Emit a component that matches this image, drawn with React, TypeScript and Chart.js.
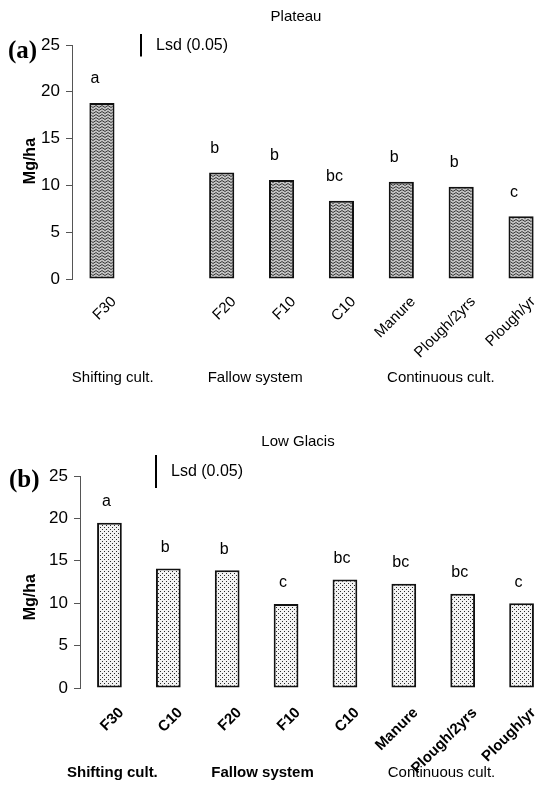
import React, { useEffect, useRef } from "react";
import { Chart, registerables } from "chart.js";
Chart.register(...registerables);

const categoriesA = ["F30", "", "F20", "F10", "C10", "Manure", "Plough/2yrs", "Plough/yr"];
const valuesA = [18.8, null, 11.37, 10.58, 8.35, 10.4, 9.85, 6.7];
const lettersA = ["a", "", "b", "b", "bc", "b", "b", "c"];

const categoriesB = ["F30", "C10", "F20", "F10", "C10", "Manure", "Plough/2yrs", "Plough/yr"];
const valuesB = [19.5, 14.1, 13.9, 9.9, 12.8, 12.3, 11.1, 10.0];
const lettersB = ["a", "b", "b", "c", "bc", "bc", "bc", "c"];

const groupLabels = ["Shifting cult.", "Fallow system", "Continuous cult."];
const yMin = 0;
const yMax = 25;
const yStep = 5;
const lsdA = 2.4;
const lsdB = 3.9;

const FONT = "Arial, 'Liberation Sans', sans-serif";

function zigzagPattern(): CanvasPattern | string {
  const c = document.createElement("canvas");
  c.width = 6;
  c.height = 3;
  const g = c.getContext("2d");
  if (!g) return "#999";
  g.fillStyle = "#c4c4c4";
  g.fillRect(0, 0, 6, 3);
  g.strokeStyle = "#3a3a3a";
  g.lineWidth = 1;
  g.beginPath();
  g.moveTo(0, 0.5);
  g.lineTo(3, 2.5);
  g.lineTo(6, 0.5);
  g.stroke();
  return g.createPattern(c, "repeat") || "#999";
}

function dotPattern(): CanvasPattern | string {
  const c = document.createElement("canvas");
  c.width = 4;
  c.height = 4;
  const g = c.getContext("2d");
  if (!g) return "#ddd";
  g.fillStyle = "#f2f2f2";
  g.fillRect(0, 0, 4, 4);
  g.fillStyle = "#2a2a2a";
  g.fillRect(0, 0, 1, 1);
  g.fillRect(2, 2, 1, 1);
  return g.createPattern(c, "repeat") || "#ddd";
}

const decorPlugin = {
  id: "decor",
  afterDraw(chart: any, _args: any, opts: any) {
    const ctx = chart.ctx;
    const xs = chart.scales.x;
    const ys = chart.scales.y;
    const meta = chart.getDatasetMeta(0);
    const data = chart.data.datasets[0].data;
    ctx.save();
    ctx.fillStyle = "#000";
    // letters above bars
    ctx.font = `16px ${FONT}`;
    ctx.textAlign = "center";
    ctx.textBaseline = "middle";
    (opts.letters || []).forEach((l: string, i: number) => {
      if (!l || data[i] == null) return;
      const el = meta.data[i];
      ctx.fillText(l, el.x + opts.letterDx, el.y - opts.letterDy);
    });
    // title
    ctx.font = `15px ${FONT}`;
    ctx.fillText(opts.title, opts.titleX, opts.titleY);
    // lsd bar
    const lsdPx = Math.abs(ys.getPixelForValue(0) - ys.getPixelForValue(opts.lsd));
    ctx.strokeStyle = "#000";
    ctx.lineWidth = 2;
    ctx.beginPath();
    ctx.moveTo(opts.lsdX, opts.lsdTop);
    ctx.lineTo(opts.lsdX, opts.lsdTop + lsdPx);
    ctx.stroke();
    ctx.textAlign = "left";
    ctx.font = `16px ${FONT}`;
    ctx.fillText("Lsd (0.05)", opts.lsdX + 15, opts.lsdTop + lsdPx / 2);
    // panel label
    ctx.font = `bold 25px 'Liberation Serif', 'DejaVu Serif', serif`;
    ctx.textAlign = "left";
    ctx.fillText(opts.panel, opts.panelX, opts.panelY);
    // y axis title
    ctx.save();
    ctx.translate(opts.yTitleX, ys.getPixelForValue(opts.yTitleAt));
    ctx.rotate(-Math.PI / 2);
    ctx.textAlign = "center";
    ctx.font = `bold 16px ${FONT}`;
    ctx.fillText("Mg/ha", 0, 0);
    ctx.restore();
    // group labels
    ctx.textAlign = "center";
    groupLabels.forEach((g, i) => {
      ctx.font = `${opts.groupWeights[i]} 15px ${FONT}`;
      ctx.fillText(g, xs.getPixelForValue(opts.groupAt[i]), opts.groupY);
    });
    ctx.restore();
  },
};

type PanelProps = {
  top: number;
  categories: string[];
  values: (number | null)[];
  pattern: "zigzag" | "dots";
  yWidth: number;
  padTop: number;
  xHeight: number;
  padRight: number;
  labelPad: number;
  decor: any;
};

const W = 556;
const H = 395;

function Panel(p: PanelProps) {
  const ref = useRef<HTMLCanvasElement>(null);
  useEffect(() => {
    if (!ref.current) return;
    const fill = p.pattern === "zigzag" ? zigzagPattern() : dotPattern();
    const chart = new Chart(ref.current, {
      type: "bar",
      data: {
        labels: p.categories,
        datasets: [
          {
            data: p.values as any,
            backgroundColor: fill as any,
            borderColor: "#111",
            borderWidth: 2,
            borderSkipped: false,
            categoryPercentage: 1,
            barPercentage: 0.42,
          },
        ],
      },
      options: {
        responsive: false,
        animation: false,
        devicePixelRatio: 1,
        layout: { padding: { top: p.padTop, right: p.padRight, left: 0, bottom: 0 } },
        plugins: {
          legend: { display: false },
          tooltip: { enabled: false },
          decor: p.decor,
        } as any,
        scales: {
          x: {
            grid: { display: false, drawTicks: false },
            border: { display: false },
            ticks: {
              autoSkip: false,
              maxRotation: 45,
              minRotation: 45,
              padding: p.labelPad,
              labelOffset: 12,
              color: "#000",
              font: { family: FONT, size: 15, weight: p.pattern === "dots" ? "bold" : "normal" },
            },
            afterFit: (s: any) => {
              s.height = p.xHeight;
            },
          },
          y: {
            min: yMin,
            max: yMax,
            ticks: {
              stepSize: yStep,
              padding: 6,
              color: "#000",
              font: { family: FONT, size: 17 },
            },
            grid: { drawOnChartArea: false, tickLength: 6, color: "#555", lineWidth: 1 },
            border: { display: true, color: "#555", width: 1 },
            afterFit: (s: any) => {
              s.width = p.yWidth;
            },
          },
        },
      },
      plugins: [decorPlugin],
    });
    return () => chart.destroy();
  }, []);
  return (
    <div style={{ position: "absolute", left: 0, top: p.top, width: W, height: H }}>
      <canvas ref={ref} width={W} height={H} style={{ width: W, height: H, display: "block" }} />
    </div>
  );
}

export default function App() {
  return (
    <div
      style={{
        position: "fixed",
        left: 0,
        top: 0,
        width: 548,
        height: 790,
        overflow: "hidden",
        background: "#fff",
      }}
    >
      <Panel
        top={0}
        categories={categoriesA}
        values={valuesA}
        pattern="zigzag"
        yWidth={72}
        padTop={45}
        xHeight={116}
        padRight={5}
        labelPad={14}
        decor={{
          letters: lettersA,
          letterDx: -7,
          letterDy: 24,
          title: "Plateau",
          titleX: 296,
          titleY: 17,
          lsd: lsdA,
          lsdX: 141,
          lsdTop: 34,
          panel: "(a)",
          panelX: 8,
          panelY: 52,
          yTitleX: 31,
          yTitleAt: 12.6,
          groupAt: [0.18, 2.56, 5.66],
          groupY: 378,
          groupWeights: ["normal", "normal", "normal"],
        }}
      />
      <Panel
        top={395}
        categories={categoriesB}
        values={valuesB}
        pattern="dots"
        yWidth={80}
        padTop={81}
        xHeight={102}
        padRight={5}
        labelPad={16}
        decor={{
          letters: lettersB,
          letterDx: -3,
          letterDy: 21,
          title: "Low Glacis",
          titleX: 298,
          titleY: 47,
          lsd: lsdB,
          lsdX: 156,
          lsdTop: 60,
          panel: "(b)",
          panelX: 9,
          panelY: 86,
          yTitleX: 31,
          yTitleAt: 10.7,
          groupAt: [0.05, 2.6, 5.64],
          groupY: 378,
          groupWeights: ["bold", "bold", "normal"],
        }}
      />
    </div>
  );
}
